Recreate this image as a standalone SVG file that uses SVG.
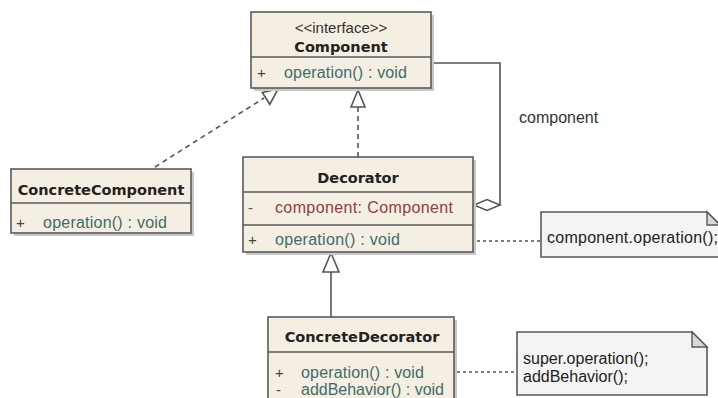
<svg xmlns="http://www.w3.org/2000/svg" width="718" height="398" viewBox="0 0 718 398">
<style>
.box{fill:#f5efe3;stroke:#5a5a5a;stroke-width:1.6}
.shadow{fill:#c8c8c8}
.div{stroke:#5a5a5a;stroke-width:1.4}
.name{font-family:"DejaVu Sans",sans-serif;font-weight:bold;font-size:14.5px;fill:#222;text-anchor:middle}
.stereo{font-family:"Liberation Sans",Arial,sans-serif;font-size:15px;fill:#333;text-anchor:middle}
.op{font-family:"Liberation Sans",Arial,sans-serif;font-size:16px;fill:#3f6b6a}
.attr{font-family:"Liberation Sans",Arial,sans-serif;font-size:16px;fill:#8c4040}
.vis{font-family:"Liberation Sans",Arial,sans-serif;font-size:15px;fill:#444}
.visr{font-family:"Liberation Sans",Arial,sans-serif;font-size:15px;fill:#8c4040}
.note{fill:#f4f4f4;stroke:#5a5a5a;stroke-width:1.6}
.fold{fill:#d8d8d8;stroke:#5a5a5a;stroke-width:1.4}
.ntext{font-family:"Liberation Sans",Arial,sans-serif;font-size:16px;fill:#222}
.line{fill:none;stroke:#555;stroke-width:1.6}
.dash{fill:none;stroke:#555;stroke-width:1.6;stroke-dasharray:5 4}
.ndash{fill:none;stroke:#555;stroke-width:1.4;stroke-dasharray:3 3}
.tri{fill:#fff;stroke:#555;stroke-width:1.6}
.lbl{font-family:"Liberation Sans",Arial,sans-serif;font-size:16px;fill:#333}
</style>
<rect width="718" height="398" fill="#ffffff"/>
<g id="connectors">
  <path class="dash" d="M155,167 L264,98"/>
  <polygon class="tri" points="278,89 269.8,104.3 262.3,92.5"/>
  <path class="dash" d="M358,157 L358,107"/>
  <polygon class="tri" points="358,90 351,107 365,107"/>
  <path class="line" d="M331,317 L331,272"/>
  <polygon class="tri" points="331,253 323,272 339,272"/>
  <path class="line" d="M431,63 L500,63 L500,205"/>
  <polygon class="tri" points="474,205 487,199.5 500,205 487,210.5"/>
  <text class="lbl" x="519" y="123">component</text>
  <path class="ndash" d="M477,241 L541,241"/>
  <path class="ndash" d="M457,372 L517,372"/>
</g>
<g id="Component">
  <rect class="shadow" x="254" y="15" width="180" height="76"/>
  <rect class="box" x="251" y="12" width="180" height="76"/>
  <line class="div" x1="251" y1="57" x2="431" y2="57"/>
  <text class="stereo" x="341" y="33">&lt;&lt;interface&gt;&gt;</text>
  <text class="name" x="341" y="52">Component</text>
  <text class="vis" x="257" y="78">+</text>
  <text class="op" x="284" y="78" textLength="123" lengthAdjust="spacing">operation() : void</text>
</g>
<g id="ConcreteComponent">
  <rect class="shadow" x="14" y="172" width="180" height="64"/>
  <rect class="box" x="11" y="169" width="180" height="64"/>
  <line class="div" x1="11" y1="203" x2="191" y2="203"/>
  <text class="name" x="101" y="195">ConcreteComponent</text>
  <text class="vis" x="16" y="228">+</text>
  <text class="op" x="43" y="228" textLength="124" lengthAdjust="spacing">operation() : void</text>
</g>
<g id="Decorator">
  <rect class="shadow" x="246" y="160" width="230" height="95"/>
  <rect class="box" x="243" y="157" width="230" height="95"/>
  <line class="div" x1="243" y1="192" x2="473" y2="192"/>
  <line class="div" x1="243" y1="225" x2="473" y2="225"/>
  <text class="name" x="358" y="183">Decorator</text>
  <text class="visr" x="248" y="213">-</text>
  <text class="attr" x="275" y="213" textLength="178" lengthAdjust="spacing">component: Component</text>
  <text class="vis" x="248" y="245">+</text>
  <text class="op" x="275" y="245" textLength="125" lengthAdjust="spacing">operation() : void</text>
</g>
<g id="ConcreteDecorator">
  <rect class="shadow" x="271" y="320" width="186" height="90"/>
  <rect class="box" x="268" y="317" width="186" height="90"/>
  <line class="div" x1="268" y1="352" x2="454" y2="352"/>
  <text class="name" x="362" y="342">ConcreteDecorator</text>
  <text class="vis" x="275" y="378">+</text>
  <text class="op" x="301" y="378" textLength="123" lengthAdjust="spacing">operation() : void</text>
  <text class="vis" x="276" y="395">-</text>
  <text class="op" x="301" y="395" textLength="143" lengthAdjust="spacing">addBehavior() : void</text>
</g>
<g id="Note1">
  <path class="note" d="M541,212 L707,212 L720,225 L720,257 L541,257 Z"/>
  <path class="fold" d="M707,212 L707,225 L720,225 Z"/>
  <text class="ntext" x="547" y="243" textLength="171" lengthAdjust="spacing">component.operation();</text>
</g>
<g id="Note2">
  <path class="note" d="M517,332 L692,332 L707,347 L707,395 L517,395 Z"/>
  <path class="fold" d="M692,332 L692,347 L707,347 Z"/>
  <text class="ntext" x="523" y="364">super.operation();</text>
  <text class="ntext" x="523" y="382">addBehavior();</text>
</g>
</svg>
